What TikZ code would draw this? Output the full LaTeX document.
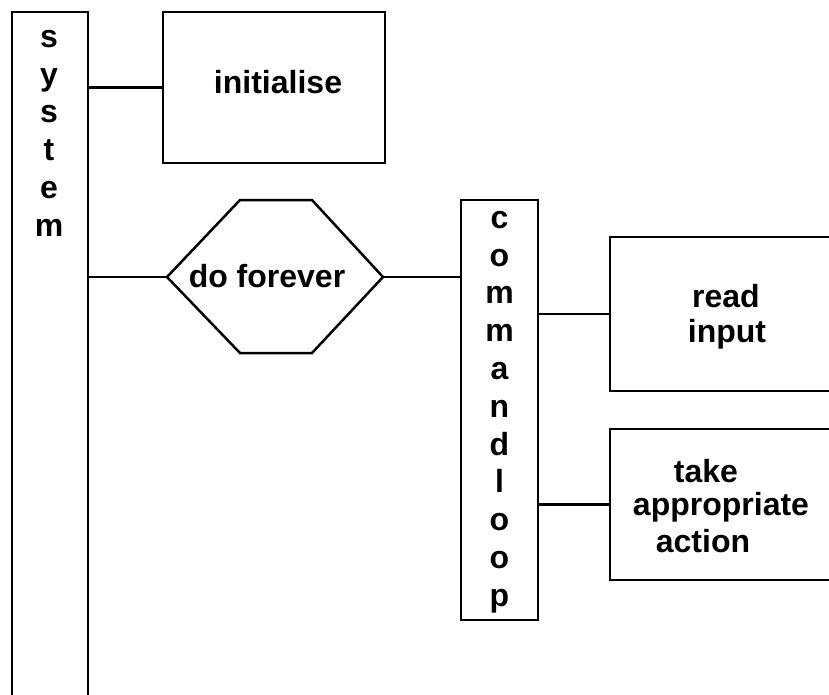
\documentclass[tikz,border=0pt]{standalone}
\usepackage{fontspec}
\setmainfont{Liberation Sans}
\begin{document}
\begin{tikzpicture}[x=1pt,y=-1pt,
  line width=2.5pt,
  every node/.style={inner sep=0pt, outer sep=0pt},
  box/.style={draw, anchor=north west},
  lbl/.style={align=center, font=\bfseries\fontsize{32}{36}\selectfont},
  stack/.style={align=center, anchor=north, font=\bfseries\fontsize{32}{37.8}\selectfont},
  link/.style={draw, line width=2.3pt}]
\useasboundingbox (0,0) rectangle (829,694);
\clip (0,0) rectangle (829,694);

% frames
\node[box, minimum width=76pt, minimum height=720pt] (sys) at (12,12) {};
\node[box, minimum width=222pt, minimum height=151pt] (init) at (163,12) {};
\node[box, minimum width=77pt, minimum height=420pt] (cmd) at (461,200) {};
\node[box, minimum width=240pt, minimum height=154pt] (read) at (610,237) {};
\node[box, minimum width=240pt, minimum height=151pt] (act) at (610,429) {};

% hexagon for the loop construct
\coordinate (hexL) at (167,277);
\coordinate (hexR) at (383,277);
\draw[line join=miter] (hexL) -- (240,200) -- (312,200) -- (hexR)
  -- (312,353) -- (240,353) -- cycle;

% texts
\node[stack] (systxt) at (49,30) {s\\y\\s\\t\\e\\m};
\node[stack] (cmdtxt) at (499.5,211) {c\\o\\m\\m\\a\\n\\d\\l\\o\\o\\p};
\node[lbl, anchor=base] (inittxt) at (278,93) {initialise};
\node[lbl, anchor=base] (hextxt) at (267,287) {do forever};
\node[lbl, anchor=base] (readtxt) at (726,307) {read};
\node[lbl, anchor=base] (inputtxt) at (727,342) {input};
\node[lbl, anchor=base] (taketxt) at (706,482) {take};
\node[lbl, anchor=base] (apptxt) at (721,515) {appropriate};
\node[lbl, anchor=base] (actiontxt) at (703,552) {action};

% connectors
\draw[link] (init.west -| sys.east) -- (init.west);
\draw[link] (hexL -| sys.east) -- (hexL);
\draw[link] (hexR) -- (hexR -| cmd.west);
\draw[link] (read.west -| cmd.east) -- (read.west);
\draw[link] (act.west -| cmd.east) -- (act.west);
\end{tikzpicture}
\end{document}
